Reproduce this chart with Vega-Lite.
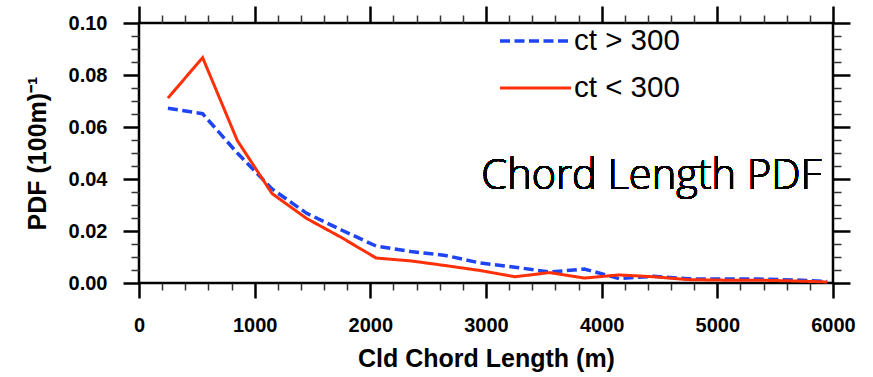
{
  "$schema": "https://vega.github.io/schema/vega-lite/v6.json",
  "width": 694,
  "height": 260,
  "autosize": "none",
  "padding": {"left": 139, "top": 23, "right": 40, "bottom": 94},
  "background": "white",
  "config": {
    "view": {"stroke": "black", "strokeWidth": 2.5},
    "axis": {"domain": false, "grid": false, "tickColor": "black", "labelColor": "black", "titleColor": "black", "labelFont": "Liberation Sans", "titleFont": "Liberation Sans", "labelFontWeight": "bold", "titleFontWeight": "bold", "labelFlush": false, "labelOverlap": false}
  },
  "data": {"values": [
    {"len": 250, "pdf": 0.0672, "series": "ct > 300"},
    {"len": 550, "pdf": 0.0651, "series": "ct > 300"},
    {"len": 850, "pdf": 0.0500, "series": "ct > 300"},
    {"len": 1150, "pdf": 0.0362, "series": "ct > 300"},
    {"len": 1450, "pdf": 0.0268, "series": "ct > 300"},
    {"len": 1750, "pdf": 0.0204, "series": "ct > 300"},
    {"len": 2050, "pdf": 0.0142, "series": "ct > 300"},
    {"len": 2350, "pdf": 0.0121, "series": "ct > 300"},
    {"len": 2650, "pdf": 0.0106, "series": "ct > 300"},
    {"len": 2950, "pdf": 0.0077, "series": "ct > 300"},
    {"len": 3250, "pdf": 0.0061, "series": "ct > 300"},
    {"len": 3550, "pdf": 0.0042, "series": "ct > 300"},
    {"len": 3850, "pdf": 0.0054, "series": "ct > 300"},
    {"len": 4150, "pdf": 0.0017, "series": "ct > 300"},
    {"len": 4450, "pdf": 0.0026, "series": "ct > 300"},
    {"len": 4750, "pdf": 0.0016, "series": "ct > 300"},
    {"len": 5050, "pdf": 0.0015, "series": "ct > 300"},
    {"len": 5350, "pdf": 0.0015, "series": "ct > 300"},
    {"len": 5650, "pdf": 0.0012, "series": "ct > 300"},
    {"len": 5950, "pdf": 0.0006, "series": "ct > 300"},
    {"len": 250, "pdf": 0.0711, "series": "ct < 300"},
    {"len": 550, "pdf": 0.0867, "series": "ct < 300"},
    {"len": 850, "pdf": 0.0548, "series": "ct < 300"},
    {"len": 1150, "pdf": 0.0344, "series": "ct < 300"},
    {"len": 1450, "pdf": 0.0248, "series": "ct < 300"},
    {"len": 1750, "pdf": 0.0175, "series": "ct < 300"},
    {"len": 2050, "pdf": 0.0096, "series": "ct < 300"},
    {"len": 2350, "pdf": 0.0085, "series": "ct < 300"},
    {"len": 2650, "pdf": 0.0067, "series": "ct < 300"},
    {"len": 2950, "pdf": 0.0048, "series": "ct < 300"},
    {"len": 3250, "pdf": 0.0024, "series": "ct < 300"},
    {"len": 3550, "pdf": 0.0040, "series": "ct < 300"},
    {"len": 3850, "pdf": 0.0019, "series": "ct < 300"},
    {"len": 4150, "pdf": 0.0031, "series": "ct < 300"},
    {"len": 4450, "pdf": 0.0024, "series": "ct < 300"},
    {"len": 4750, "pdf": 0.0013, "series": "ct < 300"},
    {"len": 5050, "pdf": 0.0011, "series": "ct < 300"},
    {"len": 5350, "pdf": 0.0011, "series": "ct < 300"},
    {"len": 5650, "pdf": 0.0008, "series": "ct < 300"},
    {"len": 5950, "pdf": 0.0004, "series": "ct < 300"}
  ]},
  "resolve": {"axis": {"x": "independent", "y": "independent"}},
  "layer": [
    {
      "mark": {"type": "line", "strokeOpacity": 0},
      "encoding": {
        "x": {"field": "len", "type": "quantitative", "scale": {"domain": [0, 6000], "nice": false},
          "axis": {"orient": "bottom", "values": [200,400,600,800,1200,1400,1600,1800,2200,2400,2600,2800,3200,3400,3600,3800,4200,4400,4600,4800,5200,5400,5600,5800], "labels": false, "title": null, "tickSize": 7, "tickWidth": 1.5, "tickColor": "#333"}},
        "y": {"field": "pdf", "type": "quantitative", "scale": {"domain": [0, 0.1], "nice": false},
          "axis": {"orient": "left", "values": [0.005,0.01,0.015,0.025,0.03,0.035,0.045,0.05,0.055,0.065,0.07,0.075,0.085,0.09,0.095], "labels": false, "title": null, "tickSize": 8, "tickWidth": 1.5, "tickColor": "#333"}},
        "detail": {"field": "series"}
      }
    },
    {
      "mark": {"type": "line", "strokeOpacity": 0},
      "encoding": {
        "x": {"field": "len", "type": "quantitative", "scale": {"domain": [0, 6000], "nice": false},
          "axis": {"orient": "top", "values": [0,1000,2000,3000,4000,5000,6000], "labels": false, "title": null, "tickSize": 17, "tickWidth": 2.5}},
        "y": {"field": "pdf", "type": "quantitative", "scale": {"domain": [0, 0.1], "nice": false},
          "axis": {"orient": "right", "values": [0,0.02,0.04,0.06,0.08,0.1], "labels": false, "title": null, "tickSize": 17, "tickWidth": 2.5}},
        "detail": {"field": "series"}
      }
    },
    {
      "mark": {"type": "line", "strokeOpacity": 0},
      "encoding": {
        "x": {"field": "len", "type": "quantitative", "scale": {"domain": [0, 6000], "nice": false},
          "axis": {"orient": "top", "values": [200,400,600,800,1200,1400,1600,1800,2200,2400,2600,2800,3200,3400,3600,3800,4200,4400,4600,4800,5200,5400,5600,5800], "labels": false, "title": null, "tickSize": 8, "tickWidth": 1.5, "tickColor": "#333"}},
        "y": {"field": "pdf", "type": "quantitative", "scale": {"domain": [0, 0.1], "nice": false},
          "axis": {"orient": "right", "values": [0.005,0.01,0.015,0.025,0.03,0.035,0.045,0.05,0.055,0.065,0.07,0.075,0.085,0.09,0.095], "labels": false, "title": null, "tickSize": 8, "tickWidth": 1.5, "tickColor": "#333"}},
        "detail": {"field": "series"}
      }
    },
    {
      "mark": {"type": "text", "font": "Open Sans", "fontSize": 41.5, "fontWeight": 300, "align": "left", "baseline": "alphabetic", "color": "black"},
      "encoding": {
        "x": {"datum": 2960, "type": "quantitative", "scale": {"domain": [0, 6000], "nice": false}, "axis": null},
        "y": {"datum": 0.0362, "type": "quantitative", "scale": {"domain": [0, 0.1], "nice": false}, "axis": null},
        "text": {"value": "Chord Length PDF"}
      }
    },
    {
      "mark": {"type": "line", "strokeJoin": "miter"},
      "encoding": {
        "x": {"field": "len", "type": "quantitative", "scale": {"domain": [0, 6000], "nice": false},
          "axis": {"orient": "bottom", "values": [0,1000,2000,3000,4000,5000,6000], "format": "d", "tickSize": 15, "tickWidth": 2.5, "labelFontSize": 20, "labelPadding": 17, "title": "Cld Chord Length (m)", "titleFontSize": 25, "titlePadding": 11}},
        "y": {"field": "pdf", "type": "quantitative", "scale": {"domain": [0, 0.1], "nice": false},
          "axis": {"orient": "left", "values": [0,0.02,0.04,0.06,0.08,0.1], "format": ".2f", "tickSize": 16, "tickWidth": 2.5, "labelFontSize": 20, "labelPadding": 16, "title": "PDF (100m)⁻¹", "titleFontSize": 25, "titlePadding": 18}},
        "color": {"field": "series", "type": "nominal", "scale": {"domain": ["ct > 300", "ct < 300"], "range": ["#1f44f2", "#ff3008"]},
          "legend": {"orient": "none", "legendX": 359, "legendY": -5, "title": null, "labelFont": "Liberation Sans", "labelFontSize": 29.5, "labelColor": "black", "symbolType": "stroke", "symbolSize": 5041, "symbolStrokeWidth": 3, "labelOffset": 1, "rowPadding": 1, "clipHeight": 46, "padding": 0, "labelLimit": 300}},
        "strokeDash": {"field": "series", "type": "nominal", "scale": {"domain": ["ct > 300", "ct < 300"], "range": [[10, 4.5], [1, 0]]},
          "legend": {"orient": "none", "legendX": 359, "legendY": -5, "title": null, "labelFont": "Liberation Sans", "labelFontSize": 29.5, "labelColor": "black", "symbolType": "stroke", "symbolSize": 5041, "symbolStrokeWidth": 3, "labelOffset": 1, "rowPadding": 1, "clipHeight": 46, "padding": 0, "labelLimit": 300}},
        "strokeWidth": {"field": "series", "type": "nominal", "scale": {"domain": ["ct > 300", "ct < 300"], "range": [3.5, 3]}, "legend": null}
      }
    }
  ]
}
